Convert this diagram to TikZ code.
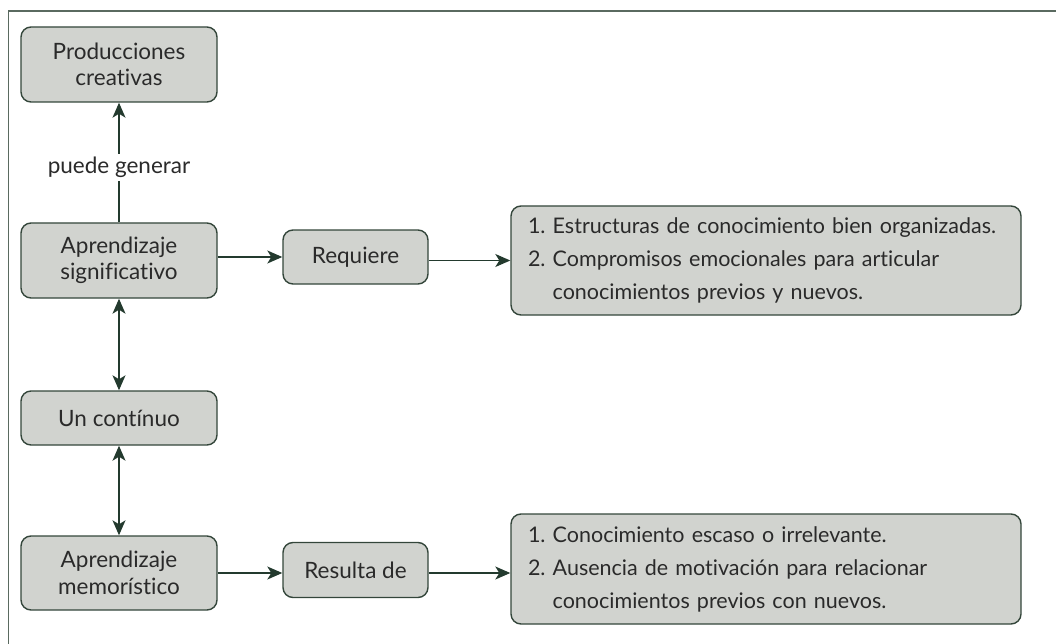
\documentclass[tikz,border=0pt]{standalone}
\usepackage{fontspec}
\setmainfont{Lato}[Ligatures=NoCommon]
\usetikzlibrary{arrows.meta}
\definecolor{boxfill}{HTML}{D1D3CF}
\definecolor{boxline}{HTML}{34463B}
\definecolor{arrowc}{HTML}{233A2E}
\definecolor{framec}{HTML}{5A6A60}
\definecolor{txt}{HTML}{2A2A2A}
\tikzset{
  conc/.style={draw=boxline, line width=1.4pt, fill=boxfill, rounded corners=10pt,
    align=center, text=txt, font=\fontsize{22.5}{26.5}\selectfont, inner sep=0pt},
  biglist/.style={draw=boxline, line width=1.4pt, fill=boxfill, rounded corners=10pt,
    align=left, text=txt, font=\fontsize{21.5}{33}\selectfont\frenchspacing, inner sep=0pt,
    minimum width=510pt, text width=476pt},
  link/.style={draw=arrowc, line width=1.3pt, -{Stealth[length=15pt,width=13pt,inset=4pt]}},
  dlink/.style={draw=arrowc, line width=1.3pt, {Stealth[length=15pt,width=13pt,inset=4pt]}-{Stealth[length=15pt,width=13pt,inset=4pt]}},
  lbl/.style={fill=white, text=txt, font=\fontsize{22.5}{26.5}\selectfont, inner sep=3pt}
}
\begin{document}
\begin{tikzpicture}[x=1pt,y=-1pt]
\useasboundingbox (0,0) rectangle (1056,644);
\draw[framec, line width=1.8pt] (1056,11) -- (8.5,11) -- (8.5,644);

\node[conc, minimum width=196pt, minimum height=75pt] (prod) at (119,64.5) {Producciones\\creativas};
\node[conc, minimum width=196pt, minimum height=75pt] (sig) at (119,260.5) {Aprendizaje\\significativo};
\node[conc, minimum width=196pt, minimum height=54pt] (cont) at (119,418) {Un contínuo};
\node[conc, minimum width=196pt, minimum height=74pt] (mem) at (119,573) {Aprendizaje\\memorístico};
\node[conc, minimum width=145pt, minimum height=54pt] (req) at (355.5,257) {Requiere};
\node[conc, minimum width=145pt, minimum height=55pt] (res) at (355.5,570) {Resulta de};
\node[biglist, minimum height=109pt] (b1) at (766,260.5)
  {1. Estructuras de conocimiento bien organizadas.\\
   2. Compromisos emocionales para articular\\
   \phantom{2. }conocimientos previos y nuevos.};
\node[biglist, minimum height=110pt] (b2) at (766,569)
  {1. Conocimiento escaso o irrelevante.\\
   2. Ausencia de motivación para relacionar\\
   \phantom{2. }conocimientos previos con nuevos.};

\draw[link] (sig) -- node[lbl, pos=0.46] {puede generar} (prod);
\draw[dlink] (sig) -- (cont);
\draw[dlink] (cont) -- (mem);
\draw[link] (sig.east |- req.west) -- (req.west);
\draw[link] (req.east |- b1.west) -- (b1.west);
\draw[link] (mem.east) -- (mem.east -| res.west);
\draw[link] (res.east |- mem.east) -- (mem.east -| b2.west);
\end{tikzpicture}
\end{document}
